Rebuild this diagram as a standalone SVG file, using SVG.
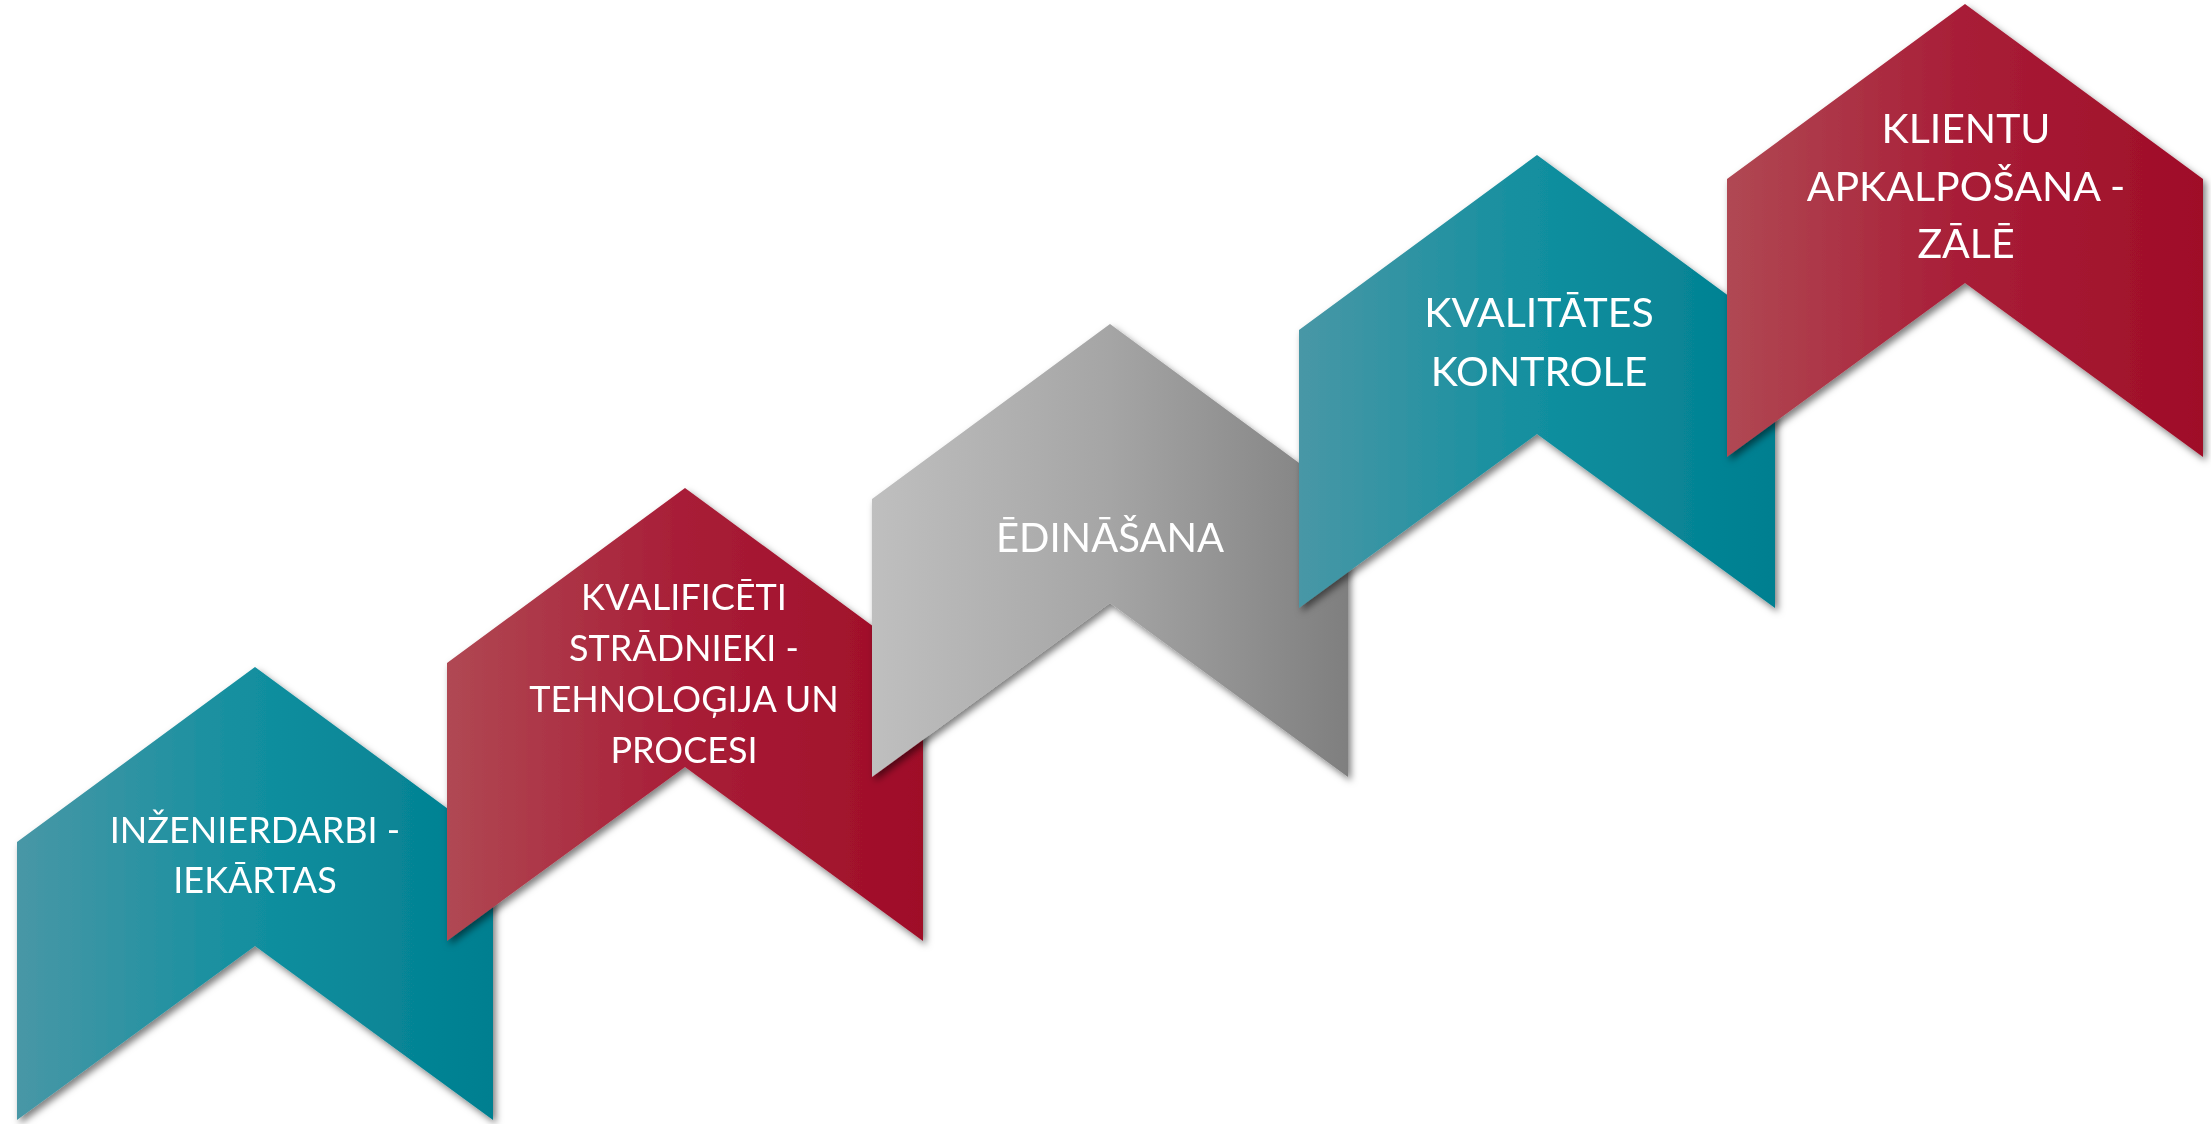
<svg xmlns="http://www.w3.org/2000/svg" width="2211" height="1124" viewBox="0 0 2211 1124">
<defs>
<linearGradient id="gTeal" x1="0" y1="0" x2="1" y2="0">
<stop offset="0" stop-color="#4897a6"/>
<stop offset="0.5" stop-color="#128f9f"/>
<stop offset="1" stop-color="#007f90"/>
</linearGradient>
<linearGradient id="gRed" x1="0" y1="0" x2="1" y2="0">
<stop offset="0" stop-color="#b04853"/>
<stop offset="0.5" stop-color="#a81d37"/>
<stop offset="1" stop-color="#9f0d28"/>
</linearGradient>
<linearGradient id="gGray" x1="0" y1="0" x2="1" y2="0">
<stop offset="0" stop-color="#bfbfbf"/>
<stop offset="0.5" stop-color="#a5a5a5"/>
<stop offset="1" stop-color="#7f7f7f"/>
</linearGradient>
<filter id="sh" x="-10%" y="-10%" width="125%" height="125%">
<feDropShadow dx="3" dy="4" stdDeviation="3.5" flood-color="#000" flood-opacity="0.5"/>
</filter>
</defs>
<style>
.lbl{font-family:Lato,"Open Sans","Liberation Sans",sans-serif;fill:#fff;text-anchor:middle}
.s1{font-size:36px}
.s3{font-size:40px}
.s2{font-size:41px}
</style>
<g id="node1" filter="url(#sh)">
<path d="M17,842 L255,667 L493,842 L493,1120 L255,946 L17,1120 Z" fill="url(#gTeal)"/>
<text class="lbl s1" x="255" y="843">INŽENIERDARBI -</text>
<text class="lbl s1" x="255" y="893">IEKĀRTAS</text>
</g>
<g id="node2" filter="url(#sh)">
<path d="M447,663 L685,488 L923,663 L923,941 L685,767 L447,941 Z" fill="url(#gRed)"/>
<text class="lbl s1" x="684" y="610">KVALIFICĒTI</text>
<text class="lbl s1" x="684" y="661">STRĀDNIEKI -</text>
<text class="lbl s1" x="684" y="712">TEHNOLOĢIJA UN</text>
<text class="lbl s1" x="684" y="763">PROCESI</text>
</g>
<g id="node3" filter="url(#sh)">
<path d="M872,499 L1110,324 L1348,499 L1348,777 L1110,603 L872,777 Z" fill="url(#gGray)"/>
<text class="lbl s3" x="1110" y="552">ĒDINĀŠANA</text>
</g>
<g id="node4" filter="url(#sh)">
<path d="M1299,330 L1537,155 L1775,330 L1775,608 L1537,434 L1299,608 Z" fill="url(#gTeal)"/>
<text class="lbl s2" x="1539" y="327">KVALITĀTES</text>
<text class="lbl s2" x="1539" y="386">KONTROLE</text>
</g>
<g id="node5" filter="url(#sh)">
<path d="M1727,179 L1965,4 L2203,179 L2203,457 L1965,283 L1727,457 Z" fill="url(#gRed)"/>
<text class="lbl s2" x="1966" y="143">KLIENTU</text>
<text class="lbl s2" x="1966" y="201">APKALPOŠANA -</text>
<text class="lbl s2" x="1966" y="258">ZĀLĒ</text>
</g>
<g id="connectors"/>
</svg>
